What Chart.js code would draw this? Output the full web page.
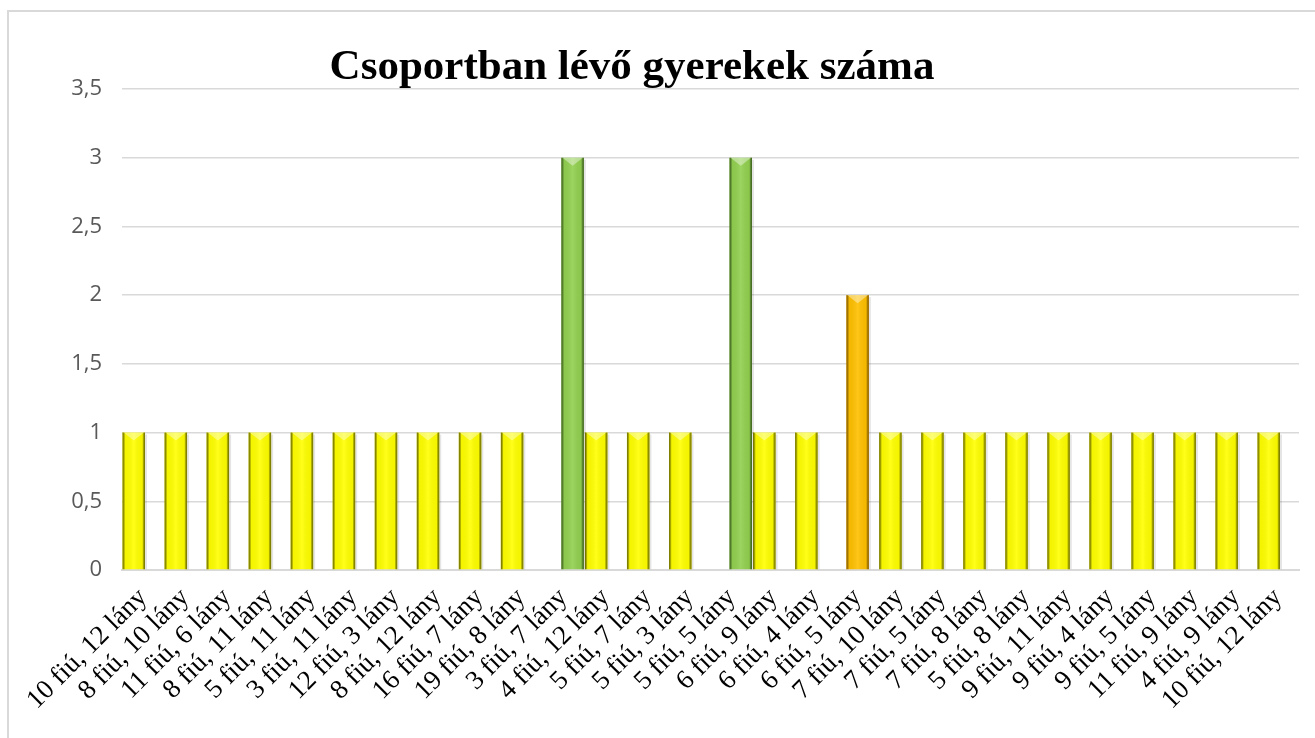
<!DOCTYPE html>
<html>
<head>
<meta charset="utf-8">
<script src="https://cdn.jsdelivr.net/npm/chart.js@4/dist/chart.umd.min.js"></script>
<style>
  html, body { margin: 0; padding: 0; background: #fff; overflow: hidden; }
  #wrap { position: absolute; left: 0; top: 0; width: 1315px; height: 738px; }
  #frame { position: absolute; left: 7px; top: 10px; width: 1400px; height: 800px;
           border-left: 2px solid #d9d9d9; border-top: 2px solid #d9d9d9; pointer-events: none; }
</style>
</head>
<body>
<div id="wrap"><canvas id="myChart" width="1315" height="738"></canvas></div>
<div id="frame"></div>
<script>
'use strict';

let chartTitle = 'Csoportban lévő gyerekek száma';

let groups = [
  '10 fiú, 12 lány', '8 fiú, 10 lány', '11 fiú, 6 lány', '8 fiú, 11 lány',
  '5 fiú, 11 lány', '3 fiú, 11 lány', '12 fiú, 3 lány', '8 fiú, 12 lány',
  '16 fiú, 7 lány', '19 fiú, 8 lány', '3 fiú, 7 lány', '4 fiú, 12 lány',
  '5 fiú, 7 lány', '5 fiú, 3 lány', '5 fiú, 5 lány', '6 fiú, 9 lány',
  '6 fiú, 4 lány', '6 fiú, 5 lány', '7 fiú, 10 lány', '7 fiú, 5 lány',
  '7 fiú, 8 lány', '5 fiú, 8 lány', '9 fiú, 11 lány', '9 fiú, 4 lány',
  '9 fiú, 5 lány', '11 fiú, 9 lány', '4 fiú, 9 lány', '10 fiú, 12 lány'
];

// three series, one per colour in the original sheet
let yellowCounts = [1, 1, 1, 1, 1, 1, 1, 1, 1, 1, null, 1, 1, 1, null, 1, 1, null, 1, 1, 1, 1, 1, 1, 1, 1, 1, 1];
let orangeCounts = [null, null, null, null, null, null, null, null, null, null, null, null, null, null, null, null, null, 2, null, null, null, null, null, null, null, null, null, null];
let greenCounts = [null, null, null, null, null, null, null, null, null, null, 3, null, null, null, 3, null, null, null, null, null, null, null, null, null, null, null, null, null];

let yTickLabels = ['0', '0,5', '1', '1,5', '2', '2,5', '3', '3,5'];

// dark edge colours for the bevel look
let edgeColors = ['rgba(100,100,0,0.9)', 'rgba(140,90,0,0.9)', 'rgba(55,95,25,0.9)'];

const bevelPlugin = {
  id: 'bevel',
  afterDatasetsDraw(chart) {
    let ctx = chart.ctx;
    chart.getSortedVisibleDatasetMetas().forEach(function (meta) {
      let edge = edgeColors[meta.index];
      meta.data.forEach(function (bar, i) {
        if (meta._parsed[i] == null || meta._parsed[i].y == null) return;
        let left = bar.x - bar.width / 2;
        let right = bar.x + bar.width / 2;
        let top = bar.y;
        let bottom = bar.base;
        ctx.save();
        let g = ctx.createLinearGradient(left, 0, right, 0);
        g.addColorStop(0, edge);
        g.addColorStop(0.12, 'rgba(0,0,0,0.04)');
        g.addColorStop(0.5, 'rgba(255,255,255,0.10)');
        g.addColorStop(0.88, 'rgba(0,0,0,0.04)');
        g.addColorStop(1, edge);
        ctx.fillStyle = g;
        ctx.fillRect(left, top, right - left, bottom - top);
        // top chevron highlight
        ctx.fillStyle = 'rgba(255,255,255,0.4)';
        ctx.beginPath();
        ctx.moveTo(left + 1, top);
        ctx.lineTo(right - 1, top);
        ctx.lineTo(bar.x, top + 8);
        ctx.closePath();
        ctx.fill();
        // soft shadow on the right
        ctx.fillStyle = 'rgba(0,0,0,0.10)';
        ctx.fillRect(right, top + 2, 2, bottom - top - 2);
        ctx.restore();
      });
    });
  },
  afterDraw(chart) {
    let ctx = chart.ctx;
    ctx.save();
    ctx.font = 'bold 43px "Liberation Serif", "Times New Roman", serif';
    ctx.fillStyle = '#000';
    ctx.textAlign = 'center';
    ctx.textBaseline = 'alphabetic';
    ctx.fillText(chartTitle, 632, 79);
    ctx.restore();
  }
};

const chartData = {
  labels: groups,
  datasets: [
    {
      label: 'sárga',
      data: yellowCounts,
      backgroundColor: '#ffff00',
      borderWidth: 0,
    },
    {
      label: 'narancs',
      data: orangeCounts,
      backgroundColor: '#ffc000',
      borderWidth: 0,
    },
    {
      label: 'zöld',
      data: greenCounts,
      backgroundColor: '#92d050',
      borderWidth: 0,
    },
  ],
};

const config = {
  type: 'bar',
  data: chartData,
  plugins: [bevelPlugin],
  options: {
    responsive: false,
    animation: false,
    categoryPercentage: 0.66,
    barPercentage: 2.43,
    layout: {
      padding: { top: 89, right: 16, left: 0, bottom: 0 },
    },
    plugins: {
      legend: { display: false },
      title: { display: false },
      tooltip: { enabled: false },
    },
    scales: {
      x: {
        grid: { display: false, drawTicks: false },
        border: { display: true, color: '#d9d9d9', width: 2 },
        ticks: {
          autoSkip: false,
          minRotation: 45,
          maxRotation: 45,
          padding: 12,
          color: '#000',
          font: { family: '"Liberation Serif", "Times New Roman", serif', size: 27 },
        },
        afterFit(scale) {
          scale.height = 168;
        },
      },
      y: {
        min: 0,
        max: 3.5,
        grid: { color: '#d9d9d9', lineWidth: 1.5, drawTicks: false },
        border: { display: false },
        ticks: {
          stepSize: 0.5,
          padding: 20,
          color: '#595959',
          font: { family: '"Open Sans", sans-serif', size: 22 },
          callback: function (value, index) {
            return yTickLabels[index];
          },
        },
        afterFit(scale) {
          scale.width = 122;
        },
      },
    },
  },
};

let chartCanvas = document.getElementById('myChart').getContext('2d');
const myChart = new Chart(chartCanvas, config);
</script>
</body>
</html>
